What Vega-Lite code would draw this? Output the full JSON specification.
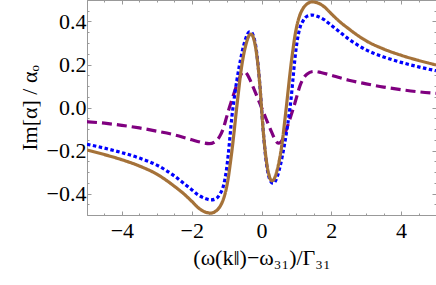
{
  "$schema": "https://vega.github.io/schema/vega-lite/v6.json",
  "autosize": {"type": "none"},
  "padding": {"left": 87, "top": 0, "right": 0, "bottom": 70},
  "width": 349,
  "height": 215,
  "config": {
    "view": {"stroke": "#999999", "strokeWidth": 1},
    "axis": {
      "labelFont": "Liberation Serif", "titleFont": "Liberation Serif",
      "labelFontSize": 22, "titleFontSize": 22, "labelColor": "black", "titleColor": "black",
      "titleFontWeight": "normal", "domainColor": "#999999", "tickColor": "#999999", "grid": false
    }
  },
  "datasets": {
    "curves": [
      {"s":"purple","x":-5,"y":-0.066},{"s":"purple","x":-4.5,"y":-0.073},{"s":"purple","x":-4,"y":-0.083},{"s":"purple","x":-3.5,"y":-0.095},{"s":"purple","x":-3,"y":-0.11},{"s":"purple","x":-2.5,"y":-0.127},{"s":"purple","x":-2.25,"y":-0.138},{"s":"purple","x":-2,"y":-0.15},{"s":"purple","x":-1.7,"y":-0.163},{"s":"purple","x":-1.5,"y":-0.168},{"s":"purple","x":-1.3,"y":-0.155},{"s":"purple","x":-1.2,"y":-0.135},{"s":"purple","x":-1.1,"y":-0.1},{"s":"purple","x":-1,"y":-0.045},{"s":"purple","x":-0.92,"y":0},{"s":"purple","x":-0.85,"y":0.035},{"s":"purple","x":-0.75,"y":0.085},{"s":"purple","x":-0.65,"y":0.13},{"s":"purple","x":-0.55,"y":0.162},{"s":"purple","x":-0.48,"y":0.166},{"s":"purple","x":-0.4,"y":0.152},{"s":"purple","x":-0.3,"y":0.118},{"s":"purple","x":-0.2,"y":0.08},{"s":"purple","x":-0.1,"y":0.04},{"s":"purple","x":0,"y":0},{"s":"purple","x":0.1,"y":-0.04},{"s":"purple","x":0.2,"y":-0.08},{"s":"purple","x":0.3,"y":-0.118},{"s":"purple","x":0.4,"y":-0.152},{"s":"purple","x":0.48,"y":-0.166},{"s":"purple","x":0.55,"y":-0.162},{"s":"purple","x":0.65,"y":-0.13},{"s":"purple","x":0.75,"y":-0.085},{"s":"purple","x":0.85,"y":-0.035},{"s":"purple","x":0.92,"y":0},{"s":"purple","x":1,"y":0.045},{"s":"purple","x":1.1,"y":0.1},{"s":"purple","x":1.2,"y":0.135},{"s":"purple","x":1.3,"y":0.155},{"s":"purple","x":1.5,"y":0.168},{"s":"purple","x":1.7,"y":0.163},{"s":"purple","x":2,"y":0.15},{"s":"purple","x":2.25,"y":0.138},{"s":"purple","x":2.5,"y":0.127},{"s":"purple","x":3,"y":0.11},{"s":"purple","x":3.5,"y":0.095},{"s":"purple","x":4,"y":0.083},{"s":"purple","x":4.5,"y":0.073},{"s":"purple","x":5,"y":0.066},
      {"s":"blue","x":-5,"y":-0.171},{"s":"blue","x":-4.5,"y":-0.189},{"s":"blue","x":-4,"y":-0.21},{"s":"blue","x":-3.5,"y":-0.235},{"s":"blue","x":-3,"y":-0.268},{"s":"blue","x":-2.75,"y":-0.291},{"s":"blue","x":-2.5,"y":-0.318},{"s":"blue","x":-2.25,"y":-0.35},{"s":"blue","x":-2,"y":-0.382},{"s":"blue","x":-1.8,"y":-0.408},{"s":"blue","x":-1.6,"y":-0.424},{"s":"blue","x":-1.45,"y":-0.43},{"s":"blue","x":-1.3,"y":-0.424},{"s":"blue","x":-1.2,"y":-0.405},{"s":"blue","x":-1.1,"y":-0.37},{"s":"blue","x":-1.05,"y":-0.335},{"s":"blue","x":-1,"y":-0.285},{"s":"blue","x":-0.95,"y":-0.215},{"s":"blue","x":-0.9,"y":-0.13},{"s":"blue","x":-0.85,"y":-0.045},{"s":"blue","x":-0.8,"y":0.02},{"s":"blue","x":-0.75,"y":0.08},{"s":"blue","x":-0.7,"y":0.132},{"s":"blue","x":-0.65,"y":0.18},{"s":"blue","x":-0.6,"y":0.223},{"s":"blue","x":-0.55,"y":0.262},{"s":"blue","x":-0.5,"y":0.295},{"s":"blue","x":-0.45,"y":0.322},{"s":"blue","x":-0.4,"y":0.342},{"s":"blue","x":-0.35,"y":0.352},{"s":"blue","x":-0.3,"y":0.351},{"s":"blue","x":-0.25,"y":0.34},{"s":"blue","x":-0.2,"y":0.315},{"s":"blue","x":-0.15,"y":0.27},{"s":"blue","x":-0.1,"y":0.2},{"s":"blue","x":-0.05,"y":0.11},{"s":"blue","x":0,"y":0},{"s":"blue","x":0.05,"y":-0.11},{"s":"blue","x":0.1,"y":-0.2},{"s":"blue","x":0.15,"y":-0.27},{"s":"blue","x":0.2,"y":-0.315},{"s":"blue","x":0.25,"y":-0.34},{"s":"blue","x":0.3,"y":-0.351},{"s":"blue","x":0.35,"y":-0.352},{"s":"blue","x":0.4,"y":-0.342},{"s":"blue","x":0.45,"y":-0.322},{"s":"blue","x":0.5,"y":-0.295},{"s":"blue","x":0.55,"y":-0.262},{"s":"blue","x":0.6,"y":-0.223},{"s":"blue","x":0.65,"y":-0.18},{"s":"blue","x":0.7,"y":-0.132},{"s":"blue","x":0.75,"y":-0.08},{"s":"blue","x":0.8,"y":-0.02},{"s":"blue","x":0.85,"y":0.045},{"s":"blue","x":0.9,"y":0.13},{"s":"blue","x":0.95,"y":0.215},{"s":"blue","x":1,"y":0.285},{"s":"blue","x":1.05,"y":0.335},{"s":"blue","x":1.1,"y":0.37},{"s":"blue","x":1.2,"y":0.405},{"s":"blue","x":1.3,"y":0.424},{"s":"blue","x":1.45,"y":0.43},{"s":"blue","x":1.6,"y":0.424},{"s":"blue","x":1.8,"y":0.408},{"s":"blue","x":2,"y":0.382},{"s":"blue","x":2.25,"y":0.35},{"s":"blue","x":2.5,"y":0.318},{"s":"blue","x":2.75,"y":0.291},{"s":"blue","x":3,"y":0.268},{"s":"blue","x":3.5,"y":0.235},{"s":"blue","x":4,"y":0.21},{"s":"blue","x":4.5,"y":0.189},{"s":"blue","x":5,"y":0.171},
      {"s":"brown","x":-5,"y":-0.198},{"s":"brown","x":-4.5,"y":-0.219},{"s":"brown","x":-4,"y":-0.243},{"s":"brown","x":-3.5,"y":-0.272},{"s":"brown","x":-3,"y":-0.31},{"s":"brown","x":-2.75,"y":-0.336},{"s":"brown","x":-2.5,"y":-0.366},{"s":"brown","x":-2.25,"y":-0.398},{"s":"brown","x":-2,"y":-0.436},{"s":"brown","x":-1.8,"y":-0.468},{"s":"brown","x":-1.6,"y":-0.487},{"s":"brown","x":-1.45,"y":-0.491},{"s":"brown","x":-1.3,"y":-0.481},{"s":"brown","x":-1.2,"y":-0.463},{"s":"brown","x":-1.1,"y":-0.43},{"s":"brown","x":-1,"y":-0.37},{"s":"brown","x":-0.95,"y":-0.325},{"s":"brown","x":-0.9,"y":-0.267},{"s":"brown","x":-0.85,"y":-0.205},{"s":"brown","x":-0.8,"y":-0.135},{"s":"brown","x":-0.75,"y":-0.06},{"s":"brown","x":-0.7,"y":0.015},{"s":"brown","x":-0.65,"y":0.085},{"s":"brown","x":-0.6,"y":0.155},{"s":"brown","x":-0.55,"y":0.21},{"s":"brown","x":-0.5,"y":0.255},{"s":"brown","x":-0.45,"y":0.29},{"s":"brown","x":-0.4,"y":0.318},{"s":"brown","x":-0.35,"y":0.336},{"s":"brown","x":-0.3,"y":0.341},{"s":"brown","x":-0.25,"y":0.332},{"s":"brown","x":-0.2,"y":0.305},{"s":"brown","x":-0.15,"y":0.26},{"s":"brown","x":-0.1,"y":0.195},{"s":"brown","x":-0.05,"y":0.11},{"s":"brown","x":0,"y":0},{"s":"brown","x":0.05,"y":-0.11},{"s":"brown","x":0.1,"y":-0.195},{"s":"brown","x":0.15,"y":-0.26},{"s":"brown","x":0.2,"y":-0.305},{"s":"brown","x":0.25,"y":-0.332},{"s":"brown","x":0.3,"y":-0.341},{"s":"brown","x":0.35,"y":-0.336},{"s":"brown","x":0.4,"y":-0.318},{"s":"brown","x":0.45,"y":-0.29},{"s":"brown","x":0.5,"y":-0.255},{"s":"brown","x":0.55,"y":-0.21},{"s":"brown","x":0.6,"y":-0.155},{"s":"brown","x":0.65,"y":-0.085},{"s":"brown","x":0.7,"y":-0.015},{"s":"brown","x":0.75,"y":0.06},{"s":"brown","x":0.8,"y":0.135},{"s":"brown","x":0.85,"y":0.205},{"s":"brown","x":0.9,"y":0.267},{"s":"brown","x":0.95,"y":0.325},{"s":"brown","x":1,"y":0.37},{"s":"brown","x":1.1,"y":0.43},{"s":"brown","x":1.2,"y":0.463},{"s":"brown","x":1.3,"y":0.481},{"s":"brown","x":1.45,"y":0.491},{"s":"brown","x":1.6,"y":0.487},{"s":"brown","x":1.8,"y":0.468},{"s":"brown","x":2,"y":0.436},{"s":"brown","x":2.25,"y":0.398},{"s":"brown","x":2.5,"y":0.366},{"s":"brown","x":2.75,"y":0.336},{"s":"brown","x":3,"y":0.31},{"s":"brown","x":3.5,"y":0.272},{"s":"brown","x":4,"y":0.243},{"s":"brown","x":4.5,"y":0.219},{"s":"brown","x":5,"y":0.198}
    ]
  },
  "resolve": {"axis": {"x": "independent", "y": "independent"}},
  "layer": [
    {
      "mark": {"type": "rule", "color": "#999999", "strokeWidth": 1},
      "encoding": {
        "y": {"datum": 0, "type": "quantitative", "axis": {"orient": "left", "values": [-0.45,-0.35,-0.3,-0.25,-0.15,-0.1,-0.05,0.05,0.1,0.15,0.25,0.3,0.35,0.45], "labels": false, "domain": false, "tickSize": -2, "title": null}},
        "x": {"datum": -5, "type": "quantitative", "axis": {"orient": "bottom", "values": [-4.5,-3.5,-3,-2.5,-1.5,-1,-0.5,0.5,1,1.5,2.5,3,3.5,4.5], "labels": false, "domain": false, "tickSize": -2, "title": null}},
        "x2": {"datum": 5}
      }
    },
    {
      "mark": {"type": "rule", "color": "#999999", "strokeWidth": 1},
      "encoding": {
        "x": {"datum": 0, "type": "quantitative", "axis": {"orient": "top", "values": [-4,-2,0,2,4], "labels": false, "domain": true, "tickSize": -4, "title": null}},
        "y": {"datum": -0.5, "type": "quantitative", "axis": {"orient": "right", "values": [-0.4,-0.2,0,0.2,0.4], "labels": false, "domain": true, "tickSize": -4, "title": null}},
        "y2": {"datum": 0.5}
      }
    },
    {
      "mark": {"type": "rule", "color": "#999999", "strokeWidth": 1},
      "encoding": {
        "y": {"datum": 0, "type": "quantitative", "axis": {"orient": "right", "values": [-0.45,-0.35,-0.3,-0.25,-0.15,-0.1,-0.05,0.05,0.1,0.15,0.25,0.3,0.35,0.45], "labels": false, "domain": false, "tickSize": -2, "title": null}},
        "x": {"datum": -5, "type": "quantitative", "axis": {"orient": "top", "values": [-4.5,-3.5,-3,-2.5,-1.5,-1,-0.5,0.5,1,1.5,2.5,3,3.5,4.5], "labels": false, "domain": false, "tickSize": -2, "title": null}},
        "x2": {"datum": 5}
      }
    },
    {
      "data": {"name": "curves"},
      "mark": {"type": "line", "strokeWidth": 3.2, "interpolate": "monotone", "clip": true, "strokeCap": "butt"},
      "encoding": {
        "x": {"field": "x", "type": "quantitative", "scale": {"domain": [-5, 5], "nice": false, "zero": false},
              "axis": {"orient": "bottom", "values": [-4,-2,0,2,4], "format": "d", "tickSize": -4, "labelPadding": 9, "title": "(ω(k‖)−ω₃₁)/Γ₃₁", "titlePadding": 6}},
        "y": {"field": "y", "type": "quantitative", "scale": {"domain": [-0.5, 0.5], "nice": false, "zero": false},
              "axis": {"orient": "left", "values": [-0.4,-0.2,0,0.2,0.4], "format": ".1f", "tickSize": -4, "labelPadding": 5, "title": "Im[α] / αₒ", "titlePadding": 5}},
        "color": {"field": "s", "type": "nominal", "legend": null, "sort": ["purple","blue","brown"],
                  "scale": {"domain": ["purple","blue","brown"], "range": ["#800080", "#0000ff", "#a57239"]}},
        "strokeDash": {"field": "s", "type": "nominal", "legend": null, "sort": ["purple","blue","brown"],
                  "scale": {"domain": ["purple","blue","brown"], "range": [[10,5],[3.5,2.5],[1,0]]}}
      }
    }
  ]
}
